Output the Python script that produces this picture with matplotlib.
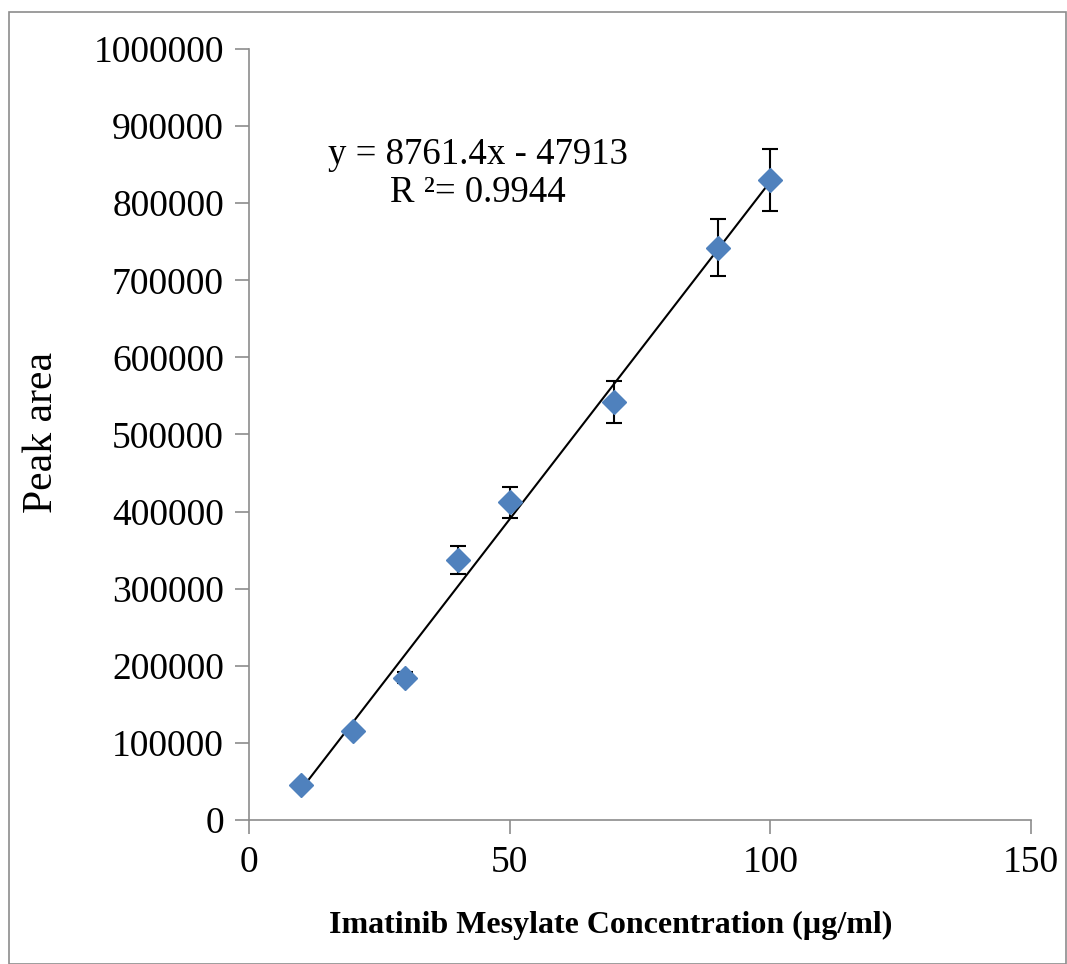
import numpy as np
import matplotlib.pyplot as plt
from matplotlib.patches import Rectangle
from matplotlib.ticker import FormatStrFormatter

# calibration data for imatinib mesylate
conc = [10, 20, 30, 40, 50, 70, 90, 100]
area = [45000, 115500, 184500, 337000, 412000, 542000, 742000, 830000]
err = [3000, 3000, 7000, 18000, 20000, 27000, 37000, 40000]

slope = 8761.4
intercept = -47913
r2 = 0.9944

plt.rcParams['font.family'] = ['Liberation Serif', 'DejaVu Serif']

W, H = 1067, 964
fig = plt.figure(figsize=(W/100, H/100), dpi=100)
fig.patches.append(Rectangle((9/W, 0), 1 - 9/W - 0.001, 1 - 12/H,
                             transform=fig.transFigure, fill=False,
                             edgecolor='#8c8c8c', linewidth=1.2))

ax = fig.add_axes([249/W, 1 - 820/H, (1031-249)/W, (820-49)/H])

xfit = np.array([min(conc), max(conc)])
ax.plot(xfit, slope*xfit + intercept, color='black', linewidth=1.5, zorder=2)
ax.errorbar(conc, area, yerr=err, fmt='none', ecolor='black', elinewidth=1.5,
            capsize=6, capthick=1.5, zorder=1)
ax.plot(conc, area, 'D', color='#4f81bd', markersize=12, zorder=3)

ax.set_xlim(0, 150)
ax.set_ylim(0, 1000000)
ax.set_xticks([0, 50, 100, 150])
ax.set_yticks(np.arange(0, 1000001, 100000))
ax.yaxis.set_major_formatter(FormatStrFormatter('%d'))
ax.tick_params(axis='both', direction='out', length=10, width=1.2,
               color='#8c8c8c', labelsize=27, pad=8)

for s in ['top', 'right']:
    ax.spines[s].set_visible(False)
for s in ['left', 'bottom']:
    ax.spines[s].set_color('#8c8c8c')
    ax.spines[s].set_linewidth(1.2)

fig.text(42/W, 1 - 432/H, 'Peak area', fontsize=30, rotation=90,
         ha='center', va='center')
fig.text(611/W, 1 - 925/H, 'Imatinib Mesylate Concentration (µg/ml)',
         fontsize=23, fontweight='bold', ha='center', va='center')

ax.text(478, H - 155, 'y = 8761.4x - 47913', transform=None, fontsize=26.5,
        ha='center', va='center')
ax.text(478, H - 193, 'R ²= %.4f' % r2, transform=None, fontsize=26.5,
        ha='center', va='center')

fig.savefig('out.png', dpi=100)
